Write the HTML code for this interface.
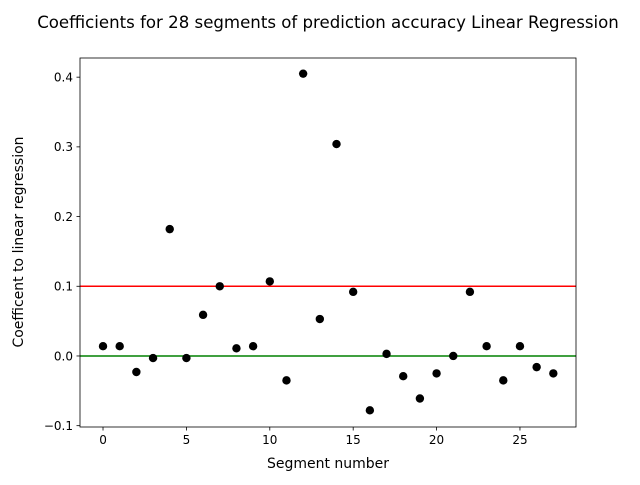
<!DOCTYPE html>
<html><head><meta charset="utf-8"><style>
body{margin:0;background:#fff}
svg text{font-family:"DejaVu Sans","Liberation Sans",sans-serif;fill:#000}
</style></head><body>
<svg id="chart" width="640" height="480"></svg>
<script>
const segments=[0,1,2,3,4,5,6,7,8,9,10,11,12,13,14,15,16,17,18,19,20,21,22,23,24,25,26,27];
const coefficients=[0.014,0.014,-0.023,-0.003,0.182,-0.003,0.059,0.100,0.011,0.014,0.107,-0.035,0.405,0.053,0.304,0.092,-0.078,0.003,-0.029,-0.061,-0.025,0.0,0.092,0.014,-0.035,0.014,-0.016,-0.025];
const xTicks=[0,5,10,15,20,25];
const yTicks=[-0.1,0.0,0.1,0.2,0.3,0.4];
const yTickLabels=["−0.1","0.0","0.1","0.2","0.3","0.4"];
const refLines=[{v:0.1,c:"red",n:"threshold-line"},{v:0.0,c:"green",n:"zero-line"}];
const L=80,R=576,T=58,B=427;
const xMin=-1.38,xMax=28.36,yMin=-0.1019,yMax=0.4275;
const sx=v=>L+(v-xMin)/(xMax-xMin)*(R-L);
const sy=v=>B-(v-yMin)/(yMax-yMin)*(B-T);
const svg=document.getElementById('chart');
const NS="http://www.w3.org/2000/svg";
function mk(tag,attrs,parent){const e=document.createElementNS(NS,tag);for(const k in attrs)e.setAttribute(k,attrs[k]);(parent||svg).appendChild(e);return e;}
let t=mk('text',{x:328,y:28,'text-anchor':'middle','font-size':16.6});
t.textContent="Coefficients for 28 segments of prediction accuracy Linear Regression";


refLines.forEach(r=>{const l=mk('line',{x1:L,x2:R,y1:sy(r.v),y2:sy(r.v),stroke:r.c,'stroke-width':1.5});

});
segments.forEach((s,i)=>{const c=mk('circle',{cx:sx(s),cy:sy(coefficients[i]),r:4.2,fill:'#000'});

});
let frame=mk('rect',{x:L,y:T,width:R-L,height:B-T,fill:'none',stroke:'#000','stroke-width':0.8});


xTicks.forEach(v=>{mk('line',{x1:sx(v),x2:sx(v),y1:B,y2:B+3.5,stroke:'#000','stroke-width':0.8});
const tx=mk('text',{x:sx(v),y:B+17,'text-anchor':'middle','font-size':12});tx.textContent=v;

});
yTicks.forEach((v,i)=>{mk('line',{x1:L-3.5,x2:L,y1:sy(v),y2:sy(v),stroke:'#000','stroke-width':0.8});
const tx=mk('text',{x:L-7,y:sy(v)+4.3,'text-anchor':'end','font-size':12});tx.textContent=yTickLabels[i];

});
t=mk('text',{x:328,y:468,'text-anchor':'middle','font-size':14});t.textContent="Segment number";


t=mk('text',{x:23,y:242,'text-anchor':'middle','font-size':14,transform:'rotate(-90 23 242)'});t.textContent="Coefficent to linear regression";


</script>
</body></html>
